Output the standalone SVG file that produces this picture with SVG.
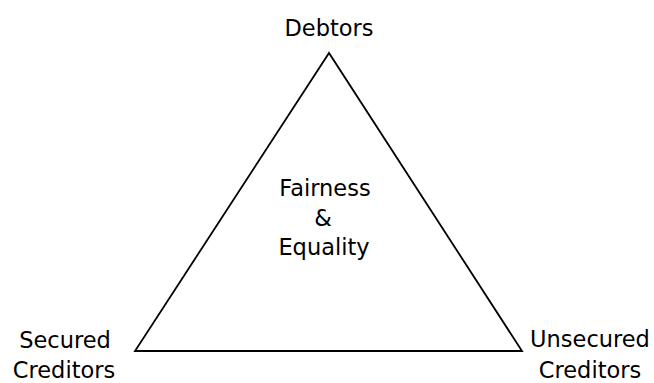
<svg xmlns="http://www.w3.org/2000/svg" width="654" height="383" viewBox="0 0 654 383">
<style>
text { font-family: "DejaVu Sans", sans-serif; font-size: 22.5px; fill: #000; text-anchor: middle; }
.edge { stroke: #000; stroke-width: 1.8; fill: none; stroke-linejoin: miter; }
</style>
<rect width="654" height="383" fill="#fff"/>
<g id="connectors">
<polygon class="edge" points="329,53 135,351 522,351"/>
</g>
<g id="debtors"><text x="329" y="36">Debtors</text></g>
<g id="secured"><text x="65" y="348">Secured</text><text x="64" y="378">Creditors</text></g>
<g id="unsecured"><text x="590" y="347">Unsecured</text><text x="590" y="378">Creditors</text></g>
<g id="center"><text x="325" y="196">Fairness</text><text x="323" y="226">&amp;</text><text x="324" y="255">Equality</text></g>
</svg>
